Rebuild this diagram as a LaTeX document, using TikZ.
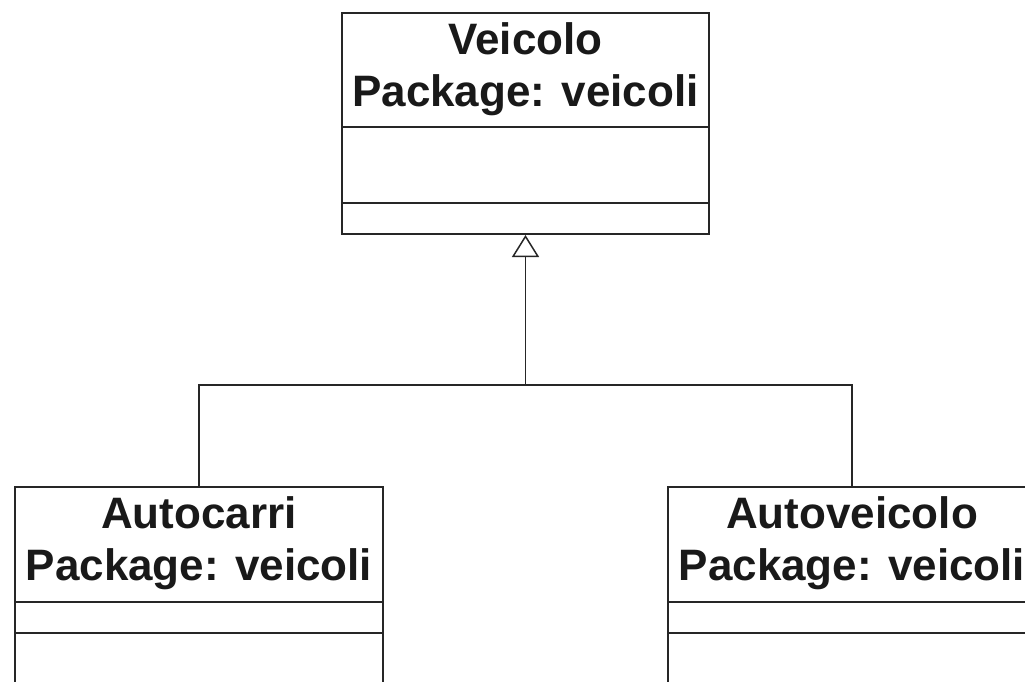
\documentclass[tikz,border=0pt]{standalone}
\usepackage{fontspec}
\setmainfont{Liberation Sans}
\usetikzlibrary{arrows.meta}
\begin{document}
\begin{tikzpicture}[x=1pt,y=-1pt,
  umlbox/.style={draw=black!85, line width=2pt, minimum width=367pt, inner sep=0pt},
  titletext/.style={font=\fontsize{44}{52}\selectfont\bfseries, align=center, inner sep=0pt, text=black!90},
  divider/.style={draw=black!85, line width=2pt},
  conn/.style={draw=black!85, line width=1.5pt}
]
\useasboundingbox (0,0) rectangle (1025,682);
\clip (0,0) rectangle (1025,682);
% boxes
\node[umlbox, minimum height=221pt] (veicolo) at (525.5,123.5) {};
\node[umlbox, minimum width=368pt, minimum height=240pt] (autocarri) at (199,607) {};
\node[umlbox, minimum width=368pt, minimum height=240pt] (autoveicolo) at (852,607) {};
% titles
\node[titletext] (tveicolo) at (525.5,69) {Veicolo\\Package: veicoli};
\node[titletext] (tautocarri) at (199,543) {Autocarri\\Package: veicoli};
\node[titletext] (tautoveicolo) at (852,543) {Autoveicolo\\Package: veicoli};
% dividers
\draw[divider] (veicolo.west |- 0,127) -- (veicolo.east |- 0,127);
\draw[divider] (veicolo.west |- 0,203) -- (veicolo.east |- 0,203);
\draw[divider] (autocarri.west |- 0,602) -- (autocarri.east |- 0,602);
\draw[divider] (autocarri.west |- 0,633) -- (autocarri.east |- 0,633);
\draw[divider] (autoveicolo.west |- 0,602) -- (autoveicolo.east |- 0,602);
\draw[divider] (autoveicolo.west |- 0,633) -- (autoveicolo.east |- 0,633);
% generalization
\coordinate (j) at (525.5,385);
\draw[conn] (autocarri.north) |- (j) -| (autoveicolo.north);
\draw[conn, -{Triangle[open, length=22pt, width=27pt, line width=1.5pt]}] (j) -- (veicolo.south);
\end{tikzpicture}
\end{document}
